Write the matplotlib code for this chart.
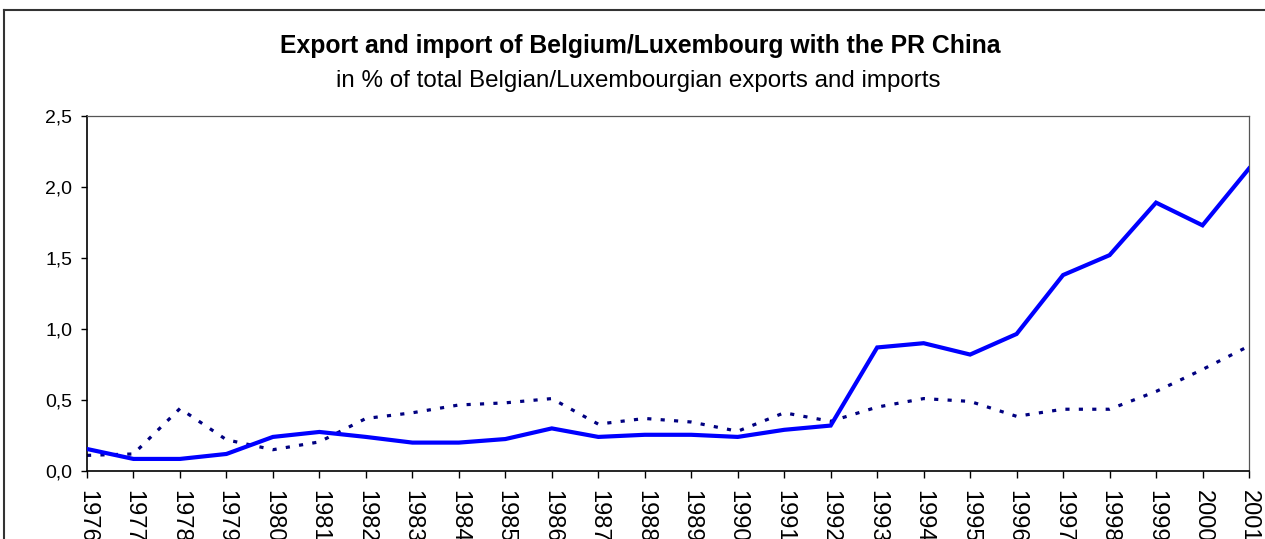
import matplotlib
matplotlib.use("Agg")
import matplotlib.pyplot as plt
from matplotlib.lines import Line2D

years = [str(y) for y in range(1976, 2002)]
solid_series = [0.155, 0.085, 0.085, 0.12, 0.24, 0.275, 0.24, 0.20, 0.20, 0.225,
                0.30, 0.24, 0.255, 0.255, 0.24, 0.29, 0.32, 0.87, 0.90, 0.82,
                0.965, 1.38, 1.52, 1.89, 1.73, 2.13]
dotted_series = [0.11, 0.12, 0.44, 0.22, 0.15, 0.205, 0.37, 0.41, 0.465, 0.48,
                 0.51, 0.33, 0.37, 0.345, 0.28, 0.41, 0.35, 0.45, 0.51, 0.49,
                 0.385, 0.435, 0.435, 0.56, 0.715, 0.88]
y_ticks = [0.0, 0.5, 1.0, 1.5, 2.0, 2.5]
y_tick_labels = ["0,0", "0,5", "1,0", "1,5", "2,0", "2,5"]
title = "Export and import of Belgium/Luxembourg with the PR China"
subtitle = "in % of total Belgian/Luxembourgian exports and imports"

plt.rcParams['font.family'] = ['Liberation Sans', 'DejaVu Sans']

W, H = 1265, 539
fig = plt.figure(figsize=(W / 100, H / 100), dpi=100)
ax = fig.add_axes([87 / W, (H - 471) / H, (1249 - 87) / W, (471 - 116) / H])

x = list(range(len(years)))
ax.plot(x, dotted_series, color="#000080", lw=2.3, linestyle=(0, (1.3, 2.9)),
        dash_capstyle="butt", zorder=2)
ax.plot(x, solid_series, color="#0000FF", lw=3.0, solid_joinstyle="miter", zorder=3)

ax.set_xlim(0, len(years) - 1)
ax.set_ylim(0, 2.5)
ax.set_xticks(x)
ax.set_xticklabels(years, rotation=270, fontsize=17, va="top", ha="center")
ax.set_yticks(y_ticks)
ax.set_yticklabels(y_tick_labels, fontsize=14)
ax.tick_params(axis="x", direction="out", length=5, width=1, pad=9)
ax.tick_params(axis="y", direction="out", length=4.5, width=1, pad=6)

for s in ["left", "bottom"]:
    ax.spines[s].set_color("black")
    ax.spines[s].set_linewidth(1.2)
for s in ["top", "right"]:
    ax.spines[s].set_color("#555555")
    ax.spines[s].set_linewidth(0.9)

fig.text(640 / W, 1 - 53 / H, title, ha="center", va="baseline",
         fontsize=17.8, fontweight="bold")
fig.text(638 / W, 1 - 87 / H, subtitle, ha="center", va="baseline",
         fontsize=17.4)

# outer frame (left and top edges visible)
fig.add_artist(Line2D([4 / W, 4 / W], [0, 1 - 10 / H], transform=fig.transFigure,
                      color="#333333", lw=1.5))
fig.add_artist(Line2D([4 / W, 1], [1 - 10 / H, 1 - 10 / H], transform=fig.transFigure,
                      color="#333333", lw=1.5))

fig.savefig("out.png", dpi=100)
